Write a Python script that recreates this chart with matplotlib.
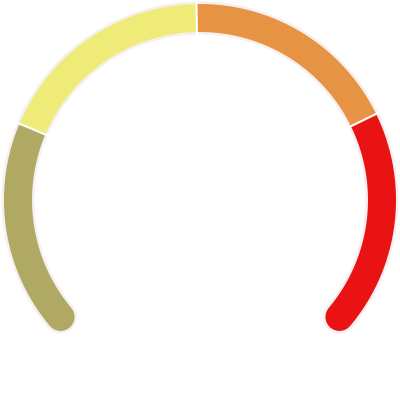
import numpy as np
import matplotlib
matplotlib.use("Agg")
import matplotlib.pyplot as plt

# gauge bands (value range 0-100)
band_edges = [0, 24.2, 49.6, 74.6, 100]
band_colors = ['#afa963', '#eeeb79', '#e69343', '#e91313']

start_angle = 220   # degrees, value 0
sweep = 260         # degrees covered by the whole scale
radius = 182
center = (200, 200)


def to_angle(v):
    return np.radians(start_angle - v / 100 * sweep)


def arc(v0, v1, n=200):
    t = np.linspace(to_angle(v0), to_angle(v1), n)
    return center[0] + radius * np.cos(t), center[1] + radius * np.sin(t)


fig = plt.figure(figsize=(4, 4), dpi=100)
ax = fig.add_axes([0, 0, 1, 1])
ax.set_xlim(0, 400)
ax.set_ylim(0, 400)
ax.set_aspect('equal')
ax.axis('off')

px = 72 / 100  # points per pixel
band_w = 28 * px

# pale outline round the whole scale
x, y = arc(band_edges[0], band_edges[-1])
ax.plot(x, y, color='#f7eff0', lw=band_w + 5 * px, solid_capstyle='round')

# ends with round caps first, inner bands on top
order = [0, 3, 1, 2]
for i in order:
    x, y = arc(band_edges[i], band_edges[i + 1])
    cap = 'round' if i in (0, len(band_colors) - 1) else 'butt'
    ax.plot(x, y, color=band_colors[i], lw=band_w, solid_capstyle=cap)

# thin white gaps between bands
for v in band_edges[1:-1]:
    a = to_angle(v)
    r0, r1 = radius - 17, radius + 17
    ax.plot([center[0] + r0 * np.cos(a), center[0] + r1 * np.cos(a)],
            [center[1] + r0 * np.sin(a), center[1] + r1 * np.sin(a)],
            color='white', lw=1.5)

fig.savefig('out.png', dpi=100, facecolor='white')
